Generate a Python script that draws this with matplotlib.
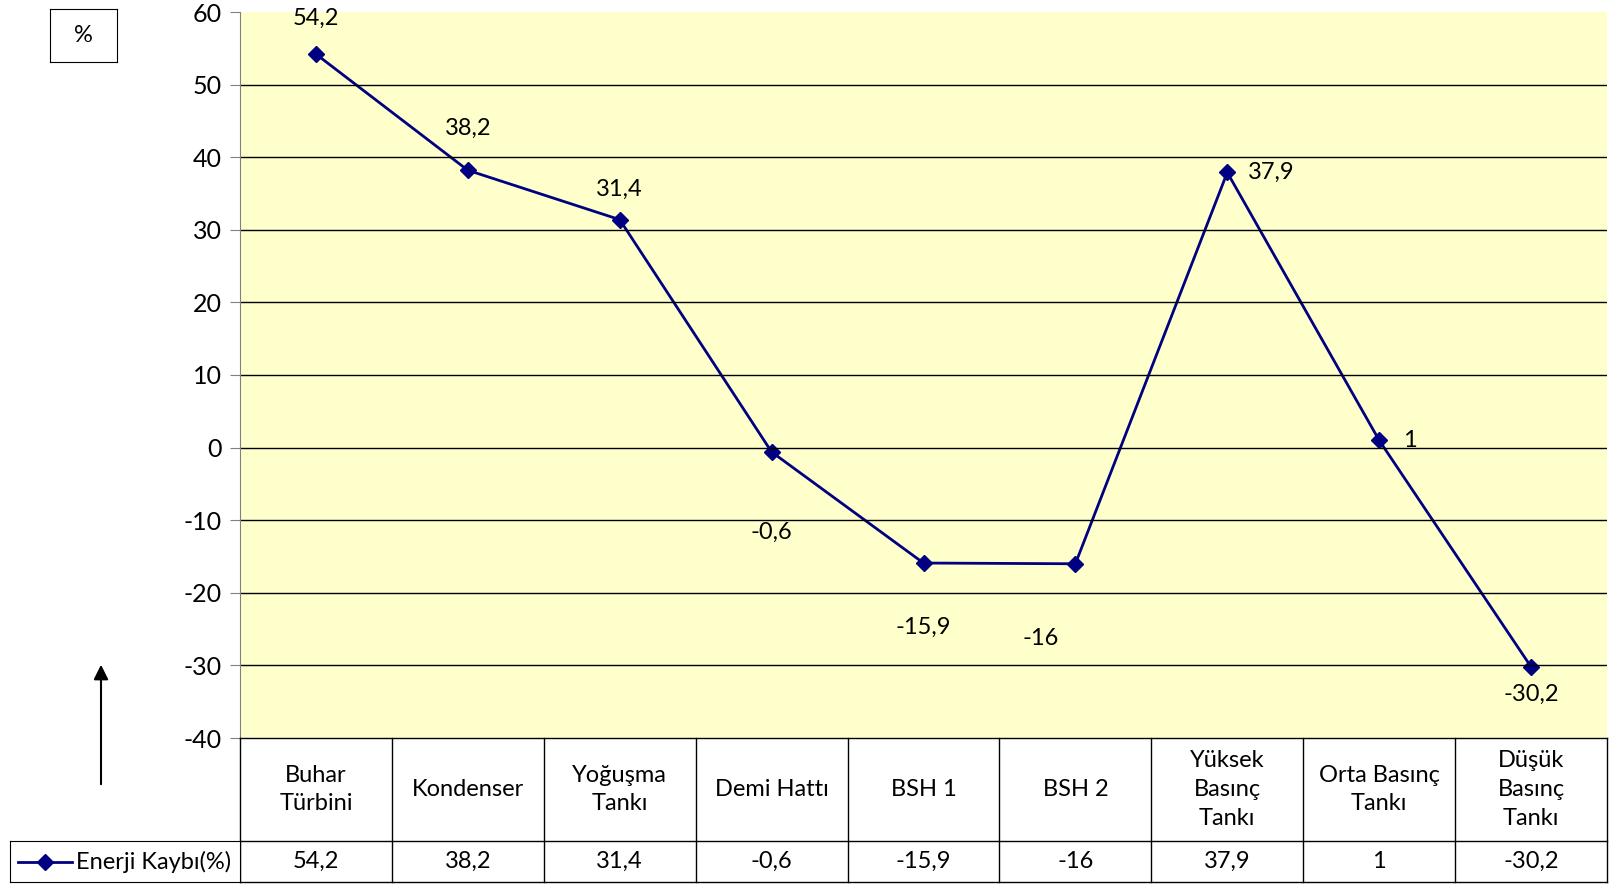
import matplotlib.pyplot as plt
from matplotlib.patches import FancyArrowPatch

# data
categories = ['Buhar\nTürbini', 'Kondenser', 'Yoğuşma\nTankı', 'Demi Hattı', 'BSH 1',
              'BSH 2', 'Yüksek\nBasınç\nTankı', 'Orta Basınç\nTankı', 'Düşük\nBasınç\nTankı']
values = [54.2, 38.2, 31.4, -0.6, -15.9, -16, 37.9, 1, -30.2]
labels = ['54,2', '38,2', '31,4', '-0,6', '-15,9', '-16', '37,9', '1', '-30,2']
series_name = 'Enerji Kaybı(%)'
# label offsets in points (dx, dy)
label_off = [(0, 26), (0, 30), (0, 22), (0, -58), (0, -46), (-25, -54), (32, 0), (22, 0), (0, -20)]

W, H = 1611, 886
plt.rcParams['font.family'] = ['Lato', 'DejaVu Sans']
plt.rcParams['axes.unicode_minus'] = False
fs = 17
fig = plt.figure(figsize=(W / 100, H / 100), dpi=100)

def box(x0, y0, x1, y1):
    # pixel box (top-left origin) -> figure fraction
    return [x0 / W, 1 - y1 / H, (x1 - x0) / W, (y1 - y0) / H]

navy = '#000080'
ax = fig.add_axes(box(240, 12, 1607, 738))
ax.set_facecolor('#FFFFCC')
x = list(range(len(values)))
ax.plot(x, values, color=navy, lw=2, marker='D', ms=8, label=series_name)
for xi, v, t, off in zip(x, values, labels, label_off):
    ax.annotate(t, (xi, v), xytext=off, textcoords='offset points',
                ha='center', va='center', fontsize=fs)
ax.set_xlim(-0.5, len(values) - 0.5)
ax.set_ylim(-40, 60)
ax.set_yticks(range(-40, 61, 10))
ax.tick_params(axis='y', labelsize=fs + 1, length=7, color='#808080', pad=6)
ax.set_xticks([])
for yv in range(-30, 51, 10):
    ax.axhline(yv, color='black', lw=1)
for s in ['top', 'right', 'bottom']:
    ax.spines[s].set_visible(False)
ax.spines['left'].set_color('#808080')

# data table under the plot
tb = fig.add_axes(box(240, 738, 1607, 882))
tb.set_xlim(-0.5, len(values) - 0.5)
tb.set_ylim(0, 144)
tb.axis('off')
lk = dict(color='black', lw=1, clip_on=False)
tb.plot([-0.5, 8.5], [144, 144], **lk)
tb.plot([-0.5, 8.5], [41, 41], **lk)
tb.plot([-0.5, 8.5], [0, 0], **lk)
for i in range(len(values) + 1):
    tb.plot([i - 0.5, i - 0.5], [0, 144], **lk)
for i, (c, t) in enumerate(zip(categories, labels)):
    tb.text(i, 92.5, c, ha='center', va='center', fontsize=fs, linespacing=1.45)
    tb.text(i, 20.5, t, ha='center', va='center', fontsize=fs)

# legend key cell
lg = fig.add_axes(box(10, 841, 240, 882))
lg.set_xlim(0, 230)
lg.set_ylim(0, 41)
lg.set_xticks([])
lg.set_yticks([])
lg.plot([8, 62], [20.5, 20.5], color=navy, lw=2)
lg.plot([35], [20.5], color=navy, marker='D', ms=8)
lg.text(66, 20.5, series_name, va='center', fontsize=fs)

# % box and arrow
pb = fig.add_axes(box(50, 9, 117, 62))
pb.set_xticks([])
pb.set_yticks([])
pb.text(0.5, 0.5, '%', ha='center', va='center', fontsize=fs, transform=pb.transAxes)
fig.add_artist(FancyArrowPatch(
    (101 / W, 1 - 787 / H), (101 / W, 1 - 662 / H), transform=fig.transFigure,
    arrowstyle='-|>', mutation_scale=22, color='black', lw=1.5))

fig.savefig('out.png', dpi=100)
